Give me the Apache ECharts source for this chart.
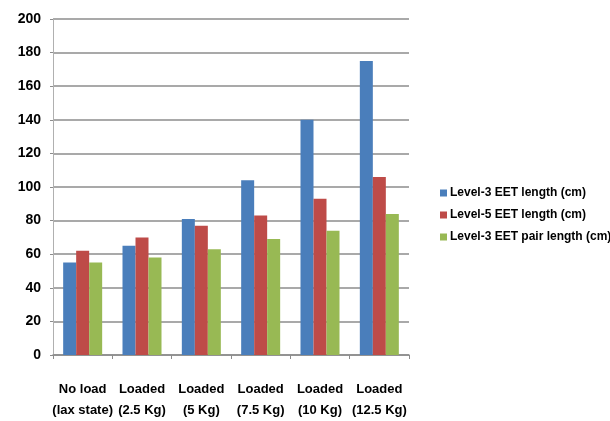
<!DOCTYPE html>
<html>
<head>
<meta charset="utf-8">
<script src="https://cdn.jsdelivr.net/npm/echarts@6/dist/echarts.min.js"></script>
<style>
  html, body { margin: 0; padding: 0; background: #ffffff; }
  #chart { width: 610px; height: 421px; }
</style>
</head>
<body>
<div id="chart"></div>
<script>
// Load conditions on the x axis
var categories = [
  'No load\n(lax state)',
  'Loaded\n(2.5 Kg)',
  'Loaded\n(5 Kg)',
  'Loaded\n(7.5 Kg)',
  'Loaded\n(10 Kg)',
  'Loaded\n(12.5 Kg)'
];

// Measured lengths in cm
var level3Length = [55, 65, 81, 104, 140, 175];
var level5Length = [62, 70, 77, 83, 93, 106];
var level3PairLength = [55, 58, 63, 69, 74, 84];

var seriesNames = [
  'Level-3 EET length (cm)',
  'Level-5 EET length (cm)',
  'Level-3 EET pair length (cm)'
];
var seriesColors = ['#4a7ebb', '#be4b48', '#98b954'];

var FONT = '"Liberation Sans", Arial, sans-serif';

var chart = echarts.init(document.getElementById('chart'), null, { renderer: 'canvas' });

function bar(name, data, color) {
  return {
    name: name,
    type: 'bar',
    data: data,
    barWidth: 13,
    barGap: '0%',
    itemStyle: { color: color },
    emphasis: { disabled: true }
  };
}

chart.setOption({
  animation: false,
  backgroundColor: '#ffffff',
  grid: { left: 53, right: 201, top: 19, bottom: 64, containLabel: false },
  legend: {
    orient: 'vertical',
    left: 435,
    top: 181,
    itemWidth: 7,
    itemHeight: 7,
    itemGap: 8,
    icon: 'rect',
    textStyle: {
      fontFamily: FONT, fontWeight: 'bold', fontSize: 12, lineHeight: 14,
      color: '#000', padding: [0, 0, 0, -2]
    },
    data: seriesNames
  },
  xAxis: {
    type: 'category',
    data: categories,
    axisLine: { lineStyle: { color: '#8c8c8c', width: 1.5 } },
    axisTick: { show: true, length: 4, lineStyle: { color: '#8c8c8c' } },
    axisLabel: {
      fontFamily: FONT, fontWeight: 'bold', fontSize: 13, color: '#000',
      margin: 24, lineHeight: 21, interval: 0
    }
  },
  yAxis: {
    type: 'value',
    min: 0,
    max: 200,
    interval: 20,
    axisLine: { show: true, lineStyle: { color: '#b0b0b0', width: 1 } },
    axisTick: { show: true, length: 3, lineStyle: { color: '#8c8c8c' } },
    splitLine: { lineStyle: { color: '#8c8c8c', width: 1.5 } },
    axisLabel: {
      fontFamily: FONT, fontWeight: 'bold', fontSize: 14, color: '#000', margin: 12
    }
  },
  series: [
    bar(seriesNames[0], level3Length, seriesColors[0]),
    bar(seriesNames[1], level5Length, seriesColors[1]),
    bar(seriesNames[2], level3PairLength, seriesColors[2])
  ]
});
</script>
</body>
</html>
